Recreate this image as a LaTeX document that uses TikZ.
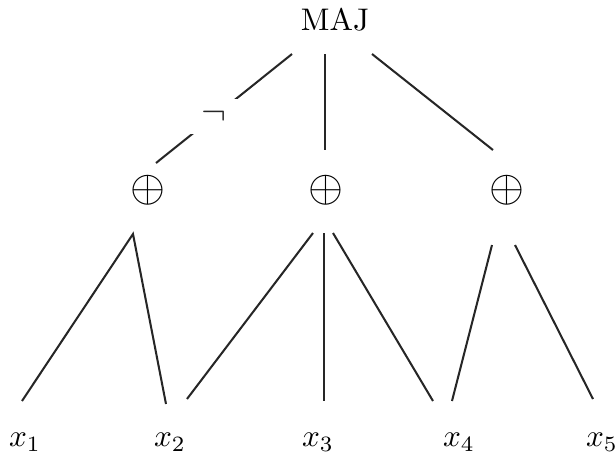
\documentclass[tikz,border=0pt]{standalone}
\usepackage{tikz}

\begin{document}
\begin{tikzpicture}[
    x=0.32pt, y=-0.32pt,
    gate/.style={inner sep=0pt},
    xorgate/.style={inner sep=0pt, font=\Large},
    leaf/.style={inner sep=0pt},
    edge/.style={line width=0.65pt, black!85},
    negbox/.style={fill=white, inner xsep=4pt, inner ysep=3pt, font=\large}
]
    \useasboundingbox (0,0) rectangle (616,455);

    \node[gate] (maj) at (335,20) {MAJ};
    \node[xorgate] (xor1) at (148,190) {$\oplus$};
    \node[xorgate] (xor2) at (326,190) {$\oplus$};
    \node[xorgate] (xor3) at (507,190) {$\oplus$};

    \node[leaf] (x1) at (25,442) {$x_1$};
    \node[leaf] (x2) at (170,442) {$x_2$};
    \node[leaf] (x3) at (318,442) {$x_3$};
    \node[leaf] (x4) at (459,442) {$x_4$};
    \node[leaf] (x5) at (602,442) {$x_5$};

    \draw[edge] ([shift={(-43,34)}]maj.center) -- node[negbox, pos=0.57] {$\neg$} ([shift={(8,-27)}]xor1.center);
    \draw[edge] ([shift={(-10,34)}]maj.center) -- ([shift={(-1,-40)}]xor2.center);
    \draw[edge] ([shift={(37,34)}]maj.center) -- ([shift={(-14,-40)}]xor3.center);

    \draw[edge] ([shift={(-3,-41)}]x1.center) -- ([shift={(-15,44)}]xor1.center) -- ([shift={(-4,-38)}]x2.center);
    \draw[edge] ([shift={(-13,43)}]xor2.center) -- ([shift={(17,-43)}]x2.center);
    \draw[edge] ([shift={(-2,43)}]xor2.center) -- ([shift={(6,-41)}]x3.center);
    \draw[edge] ([shift={(7,43)}]xor2.center) -- ([shift={(-26,-41)}]x4.center);
    \draw[edge] ([shift={(-15,55)}]xor3.center) -- ([shift={(-7,-41)}]x4.center);
    \draw[edge] ([shift={(8,55)}]xor3.center) -- ([shift={(-9,-43)}]x5.center);

\end{tikzpicture}
\end{document}
